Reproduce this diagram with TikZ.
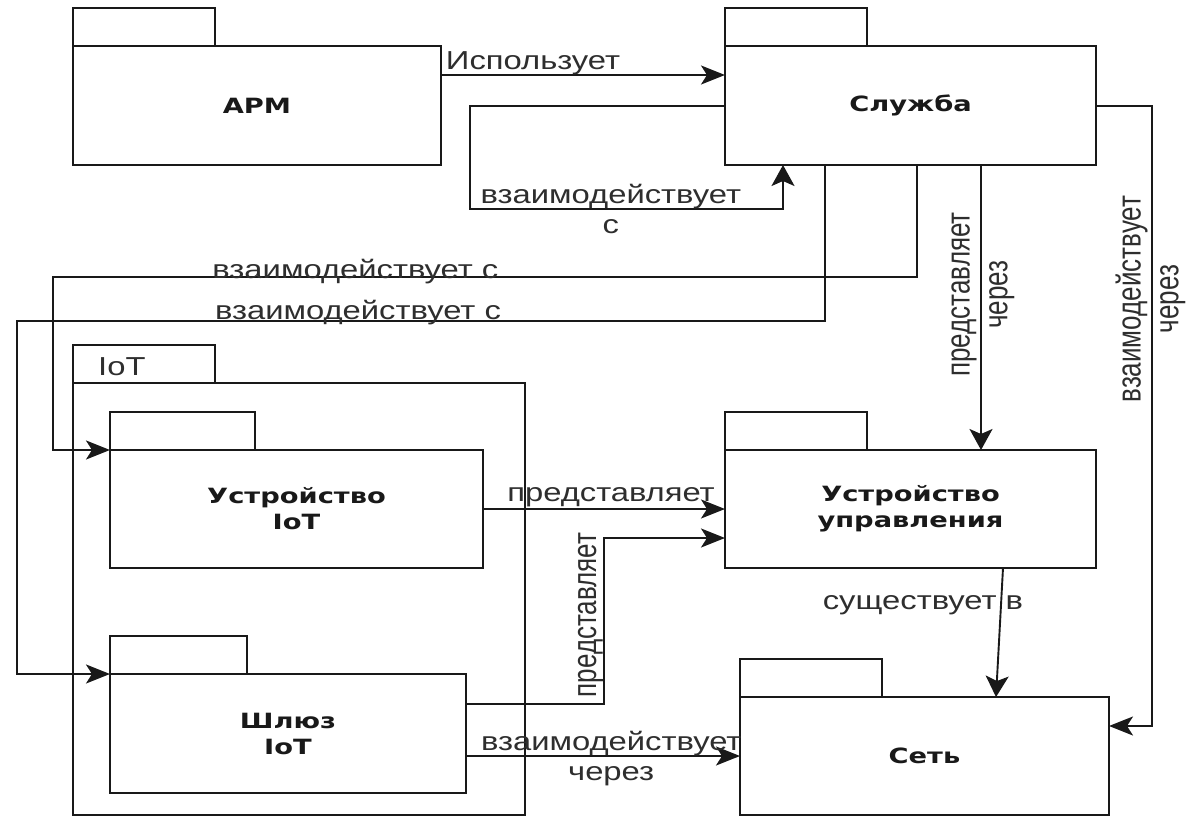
\documentclass[tikz,border=0pt]{standalone}
\usepackage{fontspec}
\usepackage{graphicx}
\setmainfont{Liberation Sans}
\newfontfamily\lblfont{Liberation Sans}[FakeStretch=1.26]
\newfontfamily\rotfont{Liberation Sans}
\newfontfamily\boxfont{DejaVu Sans Bold}[FakeStretch=1.3]
\usetikzlibrary{arrows.meta}
\newcommand{\rottwo}[2]{\scalebox{1}[1.3]{\rotfont\fontsize{26}{29}\selectfont\begin{tabular}{@{}c@{}}#1\\#2\end{tabular}}}
\newcommand{\rotone}[1]{\scalebox{1}[1.3]{\rotfont\fontsize{26}{30}\selectfont #1}}
\begin{document}
\begin{tikzpicture}[x=1pt,y=-1pt,
  pkgbody/.style={draw=black!90, line width=2pt, anchor=north west, inner sep=0pt, outer sep=0pt,
    font=\boxfont\fontsize{21}{26}\selectfont, align=center, text=black!90},
  pkgtab/.style={draw=black!90, line width=2pt, anchor=south west, inner sep=0pt, outer sep=0pt, minimum height=38},
  conn/.style={draw=black!90, line width=1.9pt},
  harr/.style={-{Stealth[length=24pt, width=19pt, inset=6pt]}},
  varr/.style={-{Stealth[length=21pt, width=23pt, inset=5pt]}},
  lbl/.style={font=\lblfont\fontsize{26}{30}\selectfont, inner sep=0pt, text=black!82},
  lbltwo/.style={font=\lblfont\fontsize{26}{30}\selectfont, inner sep=0pt, align=center, text=black!82},
  rotlbl/.style={rotate=90, inner sep=0pt, text=black!82}
]
\useasboundingbox (0,0) rectangle (1191,816);

% packages
\node[pkgbody, minimum width=368, minimum height=119] (arm) at (73,46) {АРМ};
\node[pkgtab, minimum width=142] (armtab) at (arm.north west) {};

\node[pkgbody, minimum width=371, minimum height=119] (sl) at (725,46) {Служба};
\node[pkgtab, minimum width=142] (sltab) at (sl.north west) {};

\node[pkgbody, minimum width=452, minimum height=432] (iot) at (73,383) {};
\node[pkgtab, minimum width=142] (iottab) at (iot.north west) {};
\node[lbl, anchor=west, xshift=25pt, yshift=-3pt] (iotlbl) at (iottab.west) {IoT};

\node[pkgbody, minimum width=373, minimum height=118] (uiot) at (110,450) {Устройство\\IoT};
\node[pkgtab, minimum width=145] (uiottab) at (uiot.north west) {};

\node[pkgbody, minimum width=356, minimum height=119] (shl) at (110,674) {Шлюз\\IoT};
\node[pkgtab, minimum width=137] (shltab) at (shl.north west) {};

\node[pkgbody, minimum width=371, minimum height=118] (uupr) at (725,450) {Устройство\\управления};
\node[pkgtab, minimum width=142] (uuprtab) at (uupr.north west) {};

\node[pkgbody, minimum width=369, minimum height=118] (set) at (740,697) {Сеть};
\node[pkgtab, minimum width=142] (settab) at (set.north west) {};

% connectors
\draw[conn, harr] (arm.east |- 0,75) -- node[lbl, pos=0, anchor=base west, xshift=4pt, yshift=5pt] (l1) {Использует} (sl.west |- 0,75);

\draw[conn, varr] (sl.west |- 0,106) -- (470,106) -- (470,209) -- node[lbltwo, pos=0.45] (l2) {взаимодействует\\с} (783,209) -- (sl.south -| 783,0);

\draw[conn, harr] (sl.south -| 917,0) -- (917,277) -- node[lbl, pos=0.65, anchor=base, yshift=-1pt] (l3) {взаимодействует с} (53,277) -- (uiot.north west -| 53,0) -- (uiot.north west);

\draw[conn, harr] (sl.south -| 825,0) -- (825,321) -- node[lbl, pos=0.578, anchor=base, yshift=2pt] (l4) {взаимодействует с} (17,321) -- (shl.north west -| 17,0) -- (shl.north west);

\draw[conn, varr] (sl.south -| 981,0) -- node[rotlbl, pos=0.465, xshift=3pt] (l5) {\rottwo{представляет}{через}} (uupr.north -| 981,0);

\draw[conn, harr] (sl.east |- 0,106) -- (1152,106) -- node[rotlbl, pos=0.305, xshift=-4pt] (l6) {\rottwo{взаимодействует}{через}} (1152,726) -- (set.east |- 0,726);

\draw[conn, harr] (uiot.east |- 0,509) -- node[lbl, anchor=base, yshift=8pt, xshift=7pt] (l7) {представляет} (uupr.west |- 0,509);

\draw[conn, harr] (shl.east |- 0,704) -- (604,704) -- node[rotlbl, pos=0.536, anchor=south] (l8) {\rotone{представляет}} (604,538) -- (uupr.west |- 0,538);

\draw[conn, harr] (shl.east |- 0,756) -- node[lbltwo, pos=0.53, yshift=-3pt] (l9) {взаимодействует\\через} (set.west |- 0,756);

\draw[conn, varr] (uupr.south -| 1003,0) -- node[lbl, pos=0.29, xshift=-78pt] (l10) {существует в} (set.north -| 996,0);
\end{tikzpicture}
\end{document}
